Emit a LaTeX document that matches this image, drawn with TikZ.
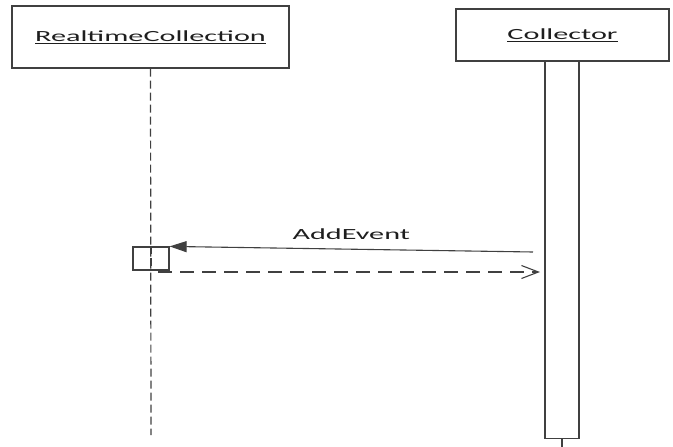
\documentclass[tikz,border=0pt]{standalone}
\usepackage{fontspec}
\usepackage{tikz}
\usetikzlibrary{arrows.meta, positioning}
\newfontfamily\umlfont[FakeStretch=1.95]{Carlito}
\definecolor{lineColor}{RGB}{64, 64, 64}
\definecolor{textColor}{RGB}{30, 30, 30}

\begin{document}
\begin{tikzpicture}[
  x=1pt, y=-1pt,
  every node/.style={font=\umlfont\fontsize{15.5}{18}\selectfont, text=textColor},
  objbox/.style={draw=lineColor, line width=1.2pt, rectangle, inner sep=0pt},
  actbox/.style={draw=lineColor, line width=1.2pt, rectangle, inner sep=0pt, fill=white},
  lifeline/.style={draw=lineColor, line width=1.2pt, dash pattern=on 8pt off 4pt},
  callmsg/.style={draw=lineColor, line width=1.1pt, -{Triangle[length=17pt, width=11pt]}},
  replymsg/.style={draw=lineColor, line width=1.1pt, dash pattern=on 14pt off 8pt,
    -{Straight Barb[length=17pt, width=13pt]}}
]
\useasboundingbox (0,0) rectangle (673,447);

% objects
\node[objbox, minimum width=277pt, minimum height=62pt] (rc) at (150.5,37) {\underline{RealtimeCollection}};
\node[objbox, minimum width=213pt, minimum height=52pt] (coll) at (562.5,35) {\underline{Collector}};

% lifelines
\coordinate (rcend) at (151,435);
\draw[lifeline] (rc.south) -- (rcend);
\node[actbox, minimum width=34pt, minimum height=377pt, anchor=north] (collbar) at (562,61) {};
\coordinate (collend) at (562,447);
\draw[draw=lineColor, line width=1.2pt] (collbar.south) -- (collend);

% activation on RealtimeCollection
\node[objbox, minimum width=36pt, minimum height=23pt] (rcact) at (151,258.5) {};
\draw[lifeline] (rcact.north) -- (rcact.south);

% messages
\coordinate (callstart) at (533,252);
\draw[callmsg] (callstart) -- (rcact.north east) node[midway, above=6pt] (callname) {AddEvent};
\coordinate (replystart) at (158,272);
\coordinate (replyend) at (540,272);
\draw[replymsg] (replystart) -- (replyend);
\end{tikzpicture}
\end{document}
